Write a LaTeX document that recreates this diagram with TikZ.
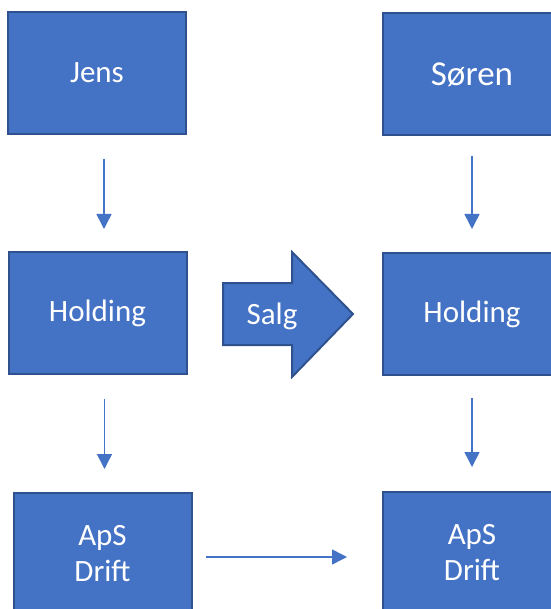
\documentclass[tikz,border=0pt]{standalone}
\usepackage{fontspec}
\setmainfont{Carlito}
\usetikzlibrary{arrows.meta,calc}
\definecolor{offblue}{HTML}{4472C4}
\definecolor{offedge}{HTML}{2F528F}
\tikzset{
  boxnode/.style={draw=offedge, fill=offblue, line width=2pt, text=white,
    minimum width=178pt, minimum height=122pt, inner sep=0pt, align=center,
    font=\fontsize{31}{36}\selectfont},
  conn/.style={draw=offblue, line width=1.5pt, -{Triangle[length=15pt,width=15pt]}}
}
\begin{document}
\begin{tikzpicture}[x=1pt,y=-1pt]
\useasboundingbox (0,0) rectangle (550,609);
\node[boxnode] (jens) at (97,73) {Jens};
\node[boxnode, font=\fontsize{35}{40}\selectfont] (soren) at (472,74.5) {Søren};
\node[boxnode] (hl) at (97.5,313) {Holding};
\node[boxnode] (hr) at (472,314) {Holding};
\node[boxnode] (al) at (102.5,554) {ApS\\Drift};
\node[boxnode] (ar) at (472,553) {ApS\\Drift};
% Salg arrow
\filldraw[draw=offedge, fill=offblue, line width=2pt, line join=miter]
  (223,283) -- (292,283) -- (292,252) -- (353,314) -- (292,377) -- (292,345) -- (223,345) -- cycle;
\node[text=white, font=\fontsize{31}{36}\selectfont] (salg) at (272,316) {Salg};
% connectors
\draw[conn, shorten <=24pt, shorten >=22pt] ([xshift=7pt]jens.south) -- ([xshift=7pt]jens.south |- hl.north);
\draw[conn, shorten <=20pt, shorten >=23pt] (soren.south) -- (hr.north);
\draw[conn, shorten <=24pt, shorten >=23pt] ([xshift=7pt]hl.south) -- ([xshift=7pt]hl.south |- al.north);
\draw[conn, shorten <=22pt, shorten >=24pt] (hr.south) -- (ar.north);
\draw[conn, shorten <=13pt, shorten >=35pt] ([yshift=-3pt]al.east) -- ([yshift=-3pt]al.east -| ar.west);
\end{tikzpicture}
\end{document}
